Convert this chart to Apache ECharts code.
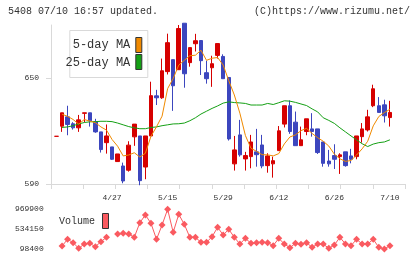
<!DOCTYPE html>
<html>
<head>
<meta charset="utf-8">
<script src="https://cdn.jsdelivr.net/npm/echarts@6/dist/echarts.min.js"></script>
<style>
  html, body { margin: 0; padding: 0; background: #fff; }
  #chart { width: 420px; height: 259px; }
</style>
</head>
<body>
<div id="chart"></div>
<script>
// trading days shown on the chart
const dates = [
  '4/13', '4/14', '4/15', '4/16', '4/17', '4/20', '4/21', '4/22', '4/23', '4/24',
  '4/27', '4/28', '4/30', '5/1', '5/7', '5/8', '5/11', '5/12', '5/13', '5/14',
  '5/15', '5/18', '5/19', '5/20', '5/21', '5/22', '5/25', '5/26', '5/27', '5/28',
  '5/29', '6/1', '6/2', '6/3', '6/4', '6/5', '6/8', '6/9', '6/10', '6/11',
  '6/12', '6/15', '6/16', '6/17', '6/18', '6/19', '6/22', '6/23', '6/24', '6/25',
  '6/26', '6/29', '6/30', '7/1', '7/2', '7/3', '7/6', '7/7', '7/8', '7/9',
  '7/10'
]
const tickLabels = ['4/27', '5/15', '5/29', '6/12', '6/26', '7/10']
const priceTicks = [590, 650]
const volumeTicks = [98400, 534150, 969900]

const open = [
  617, 622.7, 628, 624.1, 621.8, 630, 630.3, 625.2, 619.5, 613.4,
  611, 602.7, 600.2, 597.8, 616.7, 617.2, 599.6, 617.2, 639.9, 638.8,
  653.6, 660.4, 654.7, 681, 658.7, 669.4, 671.2, 653, 655.8, 662.8,
  662.2, 650.3, 601.4, 617.8, 604.2, 605.5, 608.2, 612.1, 600.4, 601.4,
  608.9, 623.9, 634.3, 625, 611.7, 619.7, 621.2, 621.2, 613.8, 603,
  606.1, 605.5, 608.2, 605.9, 605.5, 616.8, 620.6, 634.3, 634.3, 634.8,
  627.6
]
const close = [
  617, 630.3, 623.7, 621.8, 626.3, 630.3, 625.8, 619.5, 609.5, 617.2,
  604, 607, 591.7, 612, 623.9, 591.9, 617.2, 640, 638.8, 654.1,
  670, 645.6, 678, 652.4, 667.2, 671.1, 659.8, 649.6, 658.1, 669.5,
  649.6, 615.5, 609.3, 606.5, 606.1, 613.8, 606.6, 600.2, 605.9, 603.2,
  620.1, 634.3, 619.7, 611.7, 615, 626.9, 619.7, 607.8, 601.7, 601.4,
  604, 606.5, 600.4, 604, 617.2, 621.2, 628, 643.9, 630.5, 628.6,
  630.5
]
const low = [
  617, 619.5, 617.6, 620.8, 619.5, 625, 622.5, 619, 607.8, 607.2,
  603.6, 602.7, 590.4, 597, 611.6, 589.3, 592.7, 617.2, 634.7, 638.2,
  652, 631.4, 654.7, 644.5, 656.4, 665, 651.7, 646.8, 645, 661,
  649.6, 614.6, 597.6, 605.5, 597.6, 598.9, 599.8, 598.9, 596.4, 593.6,
  608.9, 622, 618.4, 611.7, 611.7, 617.6, 616.8, 607, 599.8, 599.8,
  598.5, 595.7, 599.8, 601.7, 604, 613.4, 619.7, 633.5, 630.5, 624.8,
  622.5
]
const high = [
  617, 630.3, 634.3, 625, 629.1, 630.3, 630.3, 626.9, 619.5, 623.7,
  611, 607, 602.1, 614.2, 623.9, 617.2, 617.2, 647.9, 643.3, 661,
  675.1, 660.4, 680, 681, 667.2, 675, 671.2, 659.8, 662.6, 669.5,
  663.4, 650.3, 617.2, 626.3, 608.2, 617.8, 621.2, 617.8, 607.4, 605.5,
  622.8, 634.3, 637.3, 631, 622.5, 626.9, 630.1, 621.2, 613.8, 609.3,
  612.5, 607.4, 608.2, 609.9, 617.2, 624.5, 632, 646.2, 639.2, 637.7,
  637.1
]
const ma5 = [
  null, 629.5, 628.3, 626.5, 623.9, 626.5, 625.6, 624.7, 622.3, 620.5,
  615.2, 611.4, 605.9, 606.4, 607.7, 605.3, 607.4, 617, 622.4, 628.4,
  644, 649.7, 657.3, 660, 662.6, 662.9, 665.7, 660, 661.2, 661.6,
  657.3, 648.5, 640.4, 630.1, 617.4, 610.2, 608.5, 606.6, 606.5, 605.9,
  607.2, 612.7, 616.6, 617.8, 620.2, 621.5, 618.6, 616.2, 614.2, 611.5,
  606.9, 604.3, 602.8, 603.3, 606.4, 609.9, 614.2, 622.9, 628.2, 630.4,
  632.3
]
const ma25 = [
  null, 622, 622.3, 623, 624, 624.8, 625.2, 625.3, 625.5, 625.5,
  625.3, 624.5, 623.5, 622.5, 621.8, 621.3, 621.3, 622, 622.3, 623,
  623.5, 624, 624.1, 624.5, 625.8, 627.5, 629.6, 631.2, 632.8, 634.2,
  635.8, 636.5, 636.1, 635.9, 635.6, 634.7, 634.7, 634.7, 635.6, 635,
  636, 637.1, 636.9, 636.2, 635.3, 634.4, 632.5, 630.8, 627.5, 626,
  624.3, 621.8, 619.5, 617.2, 615, 612.8, 611.2, 612.6, 613.4, 613.8,
  615
]
const volume = [
  null, 164300, 310800, 237550, 113050, 208250, 222900, 149660, 259520, 354720,
  null, 427960, 442600, 427960, 354720, 676960, 845400, 662300, 310800, 625700,
  969900, 464600, 860000, 640300, 354700, 354700, 244900, 244900, 369400, 574400,
  406000, 530500, 354700, 208250, 332800, 222900, 237550, 244900, 237550, 171600,
  332800, 208250, 127700, 222900, 200900, 237550, 135000, 208250, 208250, 113050,
  186300, 354700, 208250, 171600, 310800, 208250, 208250, 310800, 135000, 98400,
  171600
]

const ohlc = open.map((o, i) => [o, close[i], low[i], high[i]])

const upColor = '#d60000'
const downColor = '#3c46be'
const ma5Color = '#f08a00'
const ma25Color = '#14a014'
const volColor = '#fa5a60'
const axisColor = '#d9d9d9'
const textColor = '#333'
const mono = '"Liberation Mono", "DejaVu Sans Mono", monospace'

const chart = echarts.init(document.getElementById('chart'), null, { renderer: 'canvas' })

const option = {
  animation: false,
  backgroundColor: '#fff',
  grid: [
    { left: 51, top: 25, width: 354, height: 159 },
    { left: 53.7, top: 25, width: 339, height: 159 },
    { left: 53.7, top: 209.3, width: 339, height: 39.7 }
  ],
  xAxis: [{
    gridIndex: 0,
    type: 'value',
    min: 0,
    max: 11,
    interval: 1,
    axisLine: { lineStyle: { color: axisColor } },
    axisTick: { length: 5, lineStyle: { color: axisColor } },
    axisLabel: { show: false },
    splitLine: { show: false }
  }, {
    gridIndex: 1,
    type: 'category',
    data: dates,
    boundaryGap: true,
    axisLine: { show: false },
    axisTick: { show: false },
    axisLabel: {
      interval: (i, v) => tickLabels.indexOf(v) >= 0,
      margin: 10,
      color: textColor,
      fontFamily: mono,
      fontSize: 8
    }
  }, {
    gridIndex: 2,
    type: 'category',
    data: dates,
    boundaryGap: true,
    show: false
  }],
  yAxis: [{
    gridIndex: 0,
    type: 'value',
    min: 590,
    max: 680,
    axisLine: { show: true, lineStyle: { color: axisColor } },
    axisTick: { show: true, length: 5, customValues: priceTicks, lineStyle: { color: axisColor } },
    axisLabel: { customValues: priceTicks, formatter: v => String(v), margin: 12, color: textColor, fontFamily: mono, fontSize: 8 },
    splitLine: { show: false }
  }, {
    gridIndex: 1,
    type: 'value',
    min: 590,
    max: 680,
    show: false
  }, {
    gridIndex: 2,
    type: 'value',
    min: 98400,
    max: 969900,
    axisLine: { show: false },
    axisTick: { show: false },
    axisLabel: { customValues: volumeTicks, formatter: v => String(v), margin: 10, color: textColor, fontFamily: mono, fontSize: 8 },
    splitLine: { show: false }
  }],
  series: [{
    name: 'price',
    type: 'candlestick',
    xAxisIndex: 1,
    yAxisIndex: 1,
    data: ohlc,
    barWidth: 4,
    itemStyle: {
      color: upColor,
      color0: downColor,
      borderColor: upColor,
      borderColor0: downColor,
      borderWidth: 1
    }
  }, {
    name: '25-day MA',
    type: 'line',
    xAxisIndex: 1,
    yAxisIndex: 1,
    data: ma25,
    symbol: 'none',
    lineStyle: { color: ma25Color, width: 1 }
  }, {
    name: '5-day MA',
    type: 'line',
    xAxisIndex: 1,
    yAxisIndex: 1,
    data: ma5,
    symbol: 'none',
    lineStyle: { color: ma5Color, width: 1 }
  }, {
    name: 'Volume',
    type: 'line',
    xAxisIndex: 2,
    yAxisIndex: 2,
    data: volume,
    symbol: 'diamond',
    symbolSize: 7,
    showSymbol: true,
    showAllSymbol: true,
    itemStyle: { color: volColor },
    lineStyle: { color: volColor, width: 1 }
  }],
  graphic: [
    {
      type: 'text', left: 8, top: 6,
      style: { text: '5408 07/10 16:57 updated.', font: '10px ' + mono, fill: textColor }
    },
    {
      type: 'text', right: 10, top: 6,
      style: { text: '(C)https://www.rizumu.net/', font: '10px ' + mono, fill: textColor }
    },
    {
      type: 'group', left: 65.5, top: 30,
      children: [
        { type: 'rect', shape: { x: 0.5, y: 0.5, width: 78, height: 47 }, style: { fill: '#fff', stroke: axisColor, lineWidth: 1 } },
        { type: 'text', x: 61, y: 15, style: { text: '5-day MA', font: '12px ' + mono, fill: textColor, align: 'right', verticalAlign: 'middle', textAlign: 'right', textVerticalAlign: 'middle' } },
        { type: 'text', x: 61, y: 32.5, style: { text: '25-day MA', font: '12px ' + mono, fill: textColor, align: 'right', verticalAlign: 'middle', textAlign: 'right', textVerticalAlign: 'middle' } },
        { type: 'rect', shape: { x: 66.5, y: 7.5, width: 6, height: 15 }, style: { fill: ma5Color, stroke: '#333', lineWidth: 1 } },
        { type: 'rect', shape: { x: 66.5, y: 24.5, width: 6, height: 15 }, style: { fill: ma25Color, stroke: '#333', lineWidth: 1 } }
      ]
    },
    {
      type: 'group', left: 59, top: 213,
      children: [
        { type: 'text', x: 0, y: 8.5, style: { text: 'Volume', font: '10px ' + mono, fill: textColor, verticalAlign: 'middle', textVerticalAlign: 'middle' } },
        { type: 'rect', shape: { x: 43.5, y: 0.5, width: 6, height: 15 }, style: { fill: volColor, stroke: '#333', lineWidth: 1 } }
      ]
    }
  ]
}

chart.setOption(option)
window.addEventListener('resize', () => chart.resize())
</script>
</body>
</html>
